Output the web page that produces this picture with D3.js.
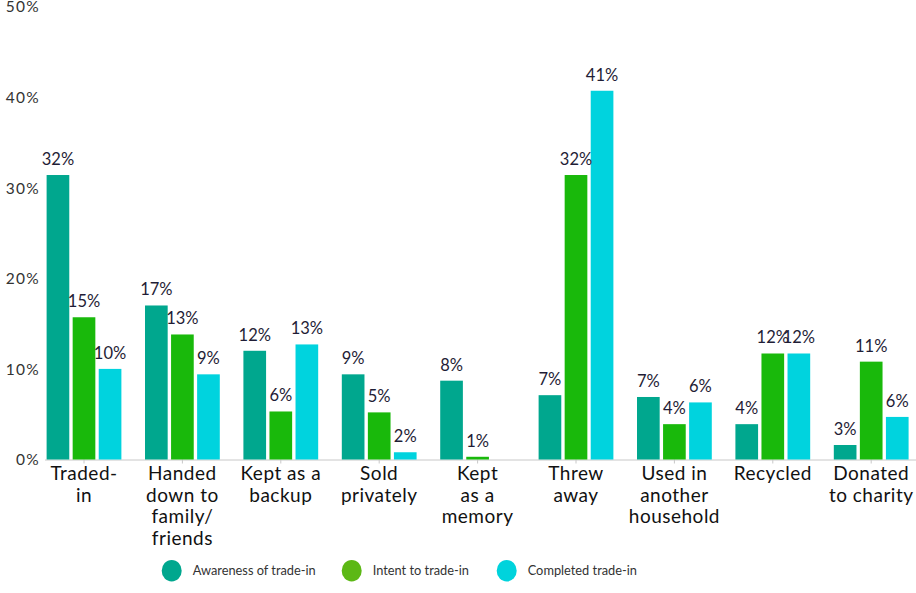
<!DOCTYPE html>
<html>
<head>
<meta charset="utf-8">
<script src="https://cdn.jsdelivr.net/npm/d3@7"></script>
<style>
  body { margin: 0; background: #fff; }
  svg { display: block; font-family: Lato, "Open Sans", sans-serif; }
</style>
</head>
<body>
<svg width="916" height="593"></svg>
<script>
// categories, each split into the lines shown under the axis
var categories = ["Traded-in", "Handed down to family/friends", "Kept as a backup", "Sold privately",
  "Kept as a memory", "Threw away", "Used in another household", "Recycled", "Donated to charity"];
var categoryLines = [["Traded-", "in"], ["Handed", "down to", "family/", "friends"], ["Kept as a", "backup"],
  ["Sold", "privately"], ["Kept", "as a", "memory"], ["Threw", "away"], ["Used in", "another", "household"],
  ["Recycled"], ["Donated", "to charity"]];

var seriesNames = ["Awareness of trade-in", "Intent to trade-in", "Completed trade-in"];

// bar heights (%)
var awareness = [31.4, 17.0, 12.0, 9.4, 8.7, 7.1, 6.9, 3.9, 1.6];
var intent    = [15.7, 13.8, 5.3, 5.2, 0.3, 31.4, 3.9, 11.7, 10.8];
var completed = [10.0, 9.4, 12.7, 0.8, 0, 40.7, 6.3, 11.7, 4.7];

// printed value labels
var awarenessLabels = ["32%", "17%", "12%", "9%", "8%", "7%", "7%", "4%", "3%"];
var intentLabels    = ["15%", "13%", "6%", "5%", "1%", "32%", "4%", "12%", "11%"];
var completedLabels = ["10%", "9%", "13%", "2%", "", "41%", "6%", "12%", "6%"];

var yTicks = [0, 10, 20, 30, 40, 50];

var barColors = ["#00a78e", "#19b90b", "#00d3de"];
var legendColors = ["#00a78e", "#5cb815", "#00d3dc"];

var values = [awareness, intent, completed];
var labels = [awarenessLabels, intentLabels, completedLabels];

var svg = d3.select("svg");

var x = d3.scaleBand().domain(categories).range([34.8, 920.4]).paddingInner(0.24).paddingOuter(0.12);
var xs = d3.scaleBand().domain(seriesNames).range([0, x.bandwidth()]).paddingInner(0.13);
var y = d3.scaleLinear().domain([0, 50]).range([459.5, 6.5]);

// Y axis labels only
var yAxis = svg.append("g")
  .attr("transform", "translate(40,0)")
  .call(d3.axisLeft(y).tickValues(yTicks).tickSize(0).tickPadding(0).tickFormat(function (d) { return d + "%"; }));
yAxis.select(".domain").remove();
yAxis.selectAll("text")
  .style("font-family", "Lato, sans-serif")
  .style("font-size", "15.5px")
  .style("letter-spacing", "1.3px")
  .attr("fill", "#333")
  .attr("dy", "0.35em");

// X baseline
var xAxis = svg.append("g")
  .attr("transform", "translate(0," + y(0) + ")")
  .call(d3.axisBottom(x).tickSize(4).tickFormat(""));
xAxis.select(".domain").attr("d", "M45,0.5H916").attr("stroke", "#c8c8c8");
xAxis.selectAll(".tick line").attr("stroke", "#c8c8c8");

// bars
var groups = svg.append("g").selectAll("g")
  .data(categories)
  .enter().append("g")
  .attr("transform", function (d) { return "translate(" + x(d) + ",0)"; });

groups.selectAll("rect")
  .data(function (d, i) { return seriesNames.map(function (s, j) { return { s: s, j: j, v: values[j][i] }; }); })
  .enter().append("rect")
  .filter(function (d) { return d.v > 0; })
  .attr("x", function (d) { return xs(d.s); })
  .attr("y", function (d) { return y(d.v); })
  .attr("width", xs.bandwidth())
  .attr("height", function (d) { return y(0) - y(d.v); })
  .attr("fill", function (d) { return barColors[d.j]; });

// value labels
groups.selectAll("text.val")
  .data(function (d, i) { return seriesNames.map(function (s, j) { return { s: s, v: values[j][i], t: labels[j][i] }; }); })
  .enter().append("text")
  .attr("class", "val")
  .attr("x", function (d) { return xs(d.s) + xs.bandwidth() / 2; })
  .attr("y", function (d) { return y(d.v) - 10; })
  .attr("text-anchor", "middle")
  .style("font-size", "16.5px")
  .attr("fill", "#1f1d36")
  .text(function (d) { return d.t; });

// category labels
svg.append("g").selectAll("text")
  .data(categories)
  .enter().append("text")
  .attr("x", function (d) { return x(d) + x.bandwidth() / 2; })
  .attr("y", 480)
  .attr("text-anchor", "middle")
  .style("font-size", "19px")
  .style("letter-spacing", "0.5px")
  .attr("fill", "#111")
  .each(function (d, i) {
    d3.select(this).selectAll("tspan")
      .data(categoryLines[i])
      .enter().append("tspan")
      .attr("x", x(d) + x.bandwidth() / 2)
      .attr("dy", function (t, k) { return k === 0 ? 0 : 21.7; })
      .text(function (t) { return t; });
  });

// legend
var legendX = [171.7, 351.7, 506.7];
var legend = svg.append("g").selectAll("g")
  .data(seriesNames)
  .enter().append("g")
  .attr("transform", function (d, i) { return "translate(" + legendX[i] + ",570.7)"; });
legend.append("ellipse")
  .attr("rx", 10)
  .attr("ry", 10.8)
  .attr("fill", function (d, i) { return legendColors[i]; });
legend.append("text")
  .attr("x", 21)
  .attr("dy", "0.35em")
  .style("font-size", "12.8px")
  .attr("fill", "#333")
  .text(function (d) { return d; });
</script>
</body>
</html>
